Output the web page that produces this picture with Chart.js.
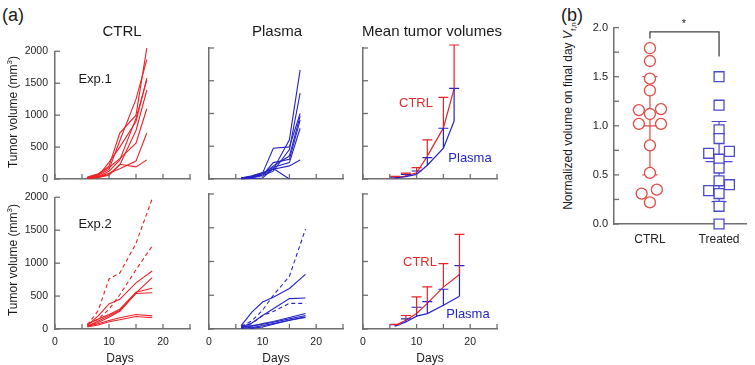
<!DOCTYPE html>
<html>
<head>
<meta charset="utf-8">
<script src="https://cdn.jsdelivr.net/npm/chart.js@4.4.1/dist/chart.umd.min.js"></script>
<style>
  body { margin: 0; background: #fff; font-family: "Liberation Sans", Arial, sans-serif; }
  #wrap { position: relative; width: 755px; height: 365px; overflow: hidden; }
  canvas { position: absolute; }
  .t { position: absolute; transform: translate(-50%, -50%); white-space: nowrap; color: #1a1a1a; line-height: 1; }
  .rot { transform: translate(-50%, -50%) rotate(-90deg); }
</style>
</head>
<body>
<div id="wrap">
  <canvas id="c1"></canvas><canvas id="c2"></canvas><canvas id="c3"></canvas>
  <canvas id="c4"></canvas><canvas id="c5"></canvas><canvas id="c6"></canvas>
  <canvas id="cb"></canvas>

  <div class="t" style="left:13px;top:15px;font-size:18px">(a)</div>
  <div class="t" style="left:572px;top:15px;font-size:18px">(b)</div>
  <div class="t" style="left:122px;top:30px;font-size:15px">CTRL</div>
  <div class="t" style="left:277px;top:30px;font-size:15px">Plasma</div>
  <div class="t" style="left:432px;top:30px;font-size:15px">Mean tumor volumes</div>
  <div class="t" style="left:95px;top:78px;font-size:13px">Exp.1</div>
  <div class="t" style="left:95px;top:223px;font-size:13px">Exp.2</div>
  <div class="t rot" style="left:12px;top:112px;font-size:12px">Tumor volume (mm<sup style="font-size:8px">3</sup>)</div>
  <div class="t rot" style="left:12px;top:260px;font-size:12px">Tumor volume (mm<sup style="font-size:8px">3</sup>)</div>
  <div class="t" style="left:120px;top:358px;font-size:12px">Days</div>
  <div class="t" style="left:276px;top:358px;font-size:12px">Days</div>
  <div class="t" style="left:430px;top:358px;font-size:12px">Days</div>
  <div class="t" style="left:416px;top:102px;font-size:13px;color:#e02a2a">CTRL</div>
  <div class="t" style="left:470px;top:157px;font-size:13px;color:#2424c8">Plasma</div>
  <div class="t" style="left:420px;top:261px;font-size:13px;color:#e02a2a">CTRL</div>
  <div class="t" style="left:468px;top:313px;font-size:13px;color:#2424c8">Plasma</div>
  <div class="t rot" style="left:570px;top:116px;font-size:12px">Normalized volume on final day <i>V</i><sub style="font-size:8px">f,n</sub></div>
  <div class="t" style="left:684px;top:23px;font-size:11px">*</div>
</div>

<script>
// measurement days
const days1 = [6, 8, 10, 12, 15, 17];
const days2 = [6, 8, 10, 12, 15, 18];

// Exp.1 individual tumours
const ctrlExp1 = [
  [30, 80, 200, 720, 1000, 2050],
  [25, 60, 150, 600, 1250, 1870],
  [20, 50, 260, 500, 900, 1580],
  [15, 40, 120, 300, 950, 1550],
  [10, 30, 70, 220, 760, 1390],
  [20, 70, 180, 320, 560, 1100],
  [15, 35, 90, 160, 280, 720],
  [10, 25, 60, 230, 190, 300]
];
const plasmaExp1 = [
  [10, 30, 60, 150, 600, 1665],
  [10, 25, 50, 120, 450, 1310],
  [15, 40, 90, 470, 490, 1000],
  [10, 30, 70, 200, 350, 960],
  [5, 20, 60, 250, 300, 900],
  [10, 35, 80, 180, 250, 775],
  [15, 50, 100, 150, 200, 290],
  [5, 10, 15, 160, 0, null]
];

// Exp.2 individual tumours
const ctrlExp2 = [
  [60, 200, 380, 450, 700, 880],
  [40, 120, 200, 280, 550, 780],
  [70, 150, 220, 300, 560, 620],
  [50, 100, 180, 270, 540, 550],
  [40, 80, 130, 170, 220, 200],
  [30, 60, 110, 140, 190, 170]
];
const ctrlExp2Dashed = [
  [60, 280, 760, 850, 1300, 1980],
  [80, 150, 300, 520, 900, 1260]
];
const plasmaExp2 = [
  [50, 250, 400, 470, 600, 810],
  [30, 90, 200, 300, 450, 460],
  [20, 40, 80, 110, 170, 230],
  [40, 50, 70, 100, 150, 200],
  [10, 20, 50, 80, 130, 170],
  [60, 10, 30, 70, 130, 180]
];
const plasmaExp2Dashed = [
  [40, 120, 280, 500, 780, 1480],
  [30, 80, 200, 260, 380, 380]
];

// means and upper error (SD)
const meanCtrl1 = [20, 45, 95, 350, 780, 1380];
const sdCtrl1 = [20, 45, 80, 246, 467, 666];
const meanPlasma1 = [15, 35, 70, 210, 470, 885];
const sdPlasma1 = [15, 35, 52, 116, 305, 500];
const meanCtrl2 = [50, 130, 230, 380, 620, 807];
const sdCtrl2 = [20, 70, 245, 244, 350, 594];
const meanPlasma2 = [40, 105, 190, 228, 351, 485];
const sdPlasma2 = [25, 45, 132, 178, 238, 455];

// (b) normalized final-day volumes
const groups = ['CTRL', 'Treated'];
const ctrlFinal = [1.79, 1.66, 1.48, 1.36, 1.16, 1.17, 1.12, 1.02, 1.02, 0.80, 0.52, 0.31, 0.35, 0.22];
const ctrlJitter = [0, 0, 0, 0, -0.16, 0.16, 0, -0.16, 0.16, 0, 0, -0.12, 0.1, 0];
const treatedFinal = [1.50, 1.21, 0.96, 0.87, 0.72, 0.74, 0.66, 0.57, 0.44, 0.34, 0.40, 0.31, 0.18, 0.0];
const treatedJitter = [0, 0, 0, 0, -0.15, 0.15, 0, 0, 0, -0.15, 0.15, 0, 0, 0];
const groupMeans = [1.0, 0.636];
const groupSds = [0.5, 0.408];
const sigBracketY = 1.957;
const sigLegEnds = [1.889, 1.705];

const AXIS = '#6f6f6f';
const RED = '#ec2227';
const BLUE = '#2424c8';
const RED_B = '#e24a44';
const BLUE_B = '#4a4ad0';

Chart.defaults.font.family = '"Liberation Sans", Arial, sans-serif';
Chart.defaults.color = '#222';
Chart.defaults.animation = false;

// short tick marks pointing into the plot
const inwardTicks = {
  id: 'inwardTicks',
  afterDraw(chart, args, opts) {
    const ctx = chart.ctx;
    ctx.save();
    ctx.strokeStyle = AXIS;
    ctx.lineWidth = 1.3;
    Object.values(chart.scales).forEach(s => {
      if (opts.skipX && s.isHorizontal()) return;
      s.ticks.forEach(t => {
        const p = s.getPixelForValue(t.value);
        ctx.beginPath();
        if (s.isHorizontal()) {
          ctx.moveTo(p, s.top); ctx.lineTo(p, s.top - 5);
        } else {
          ctx.moveTo(s.right, p); ctx.lineTo(s.right + 5, p);
        }
        ctx.stroke();
      });
    });
    ctx.restore();
  }
};

// one-sided error bars for the mean curves
const errorBars = {
  id: 'errorBars',
  afterDatasetsDraw(chart) {
    const { ctx } = chart;
    const x = chart.scales.x, y = chart.scales.y;
    chart.data.datasets.forEach(ds => {
      if (!ds.errUp) return;
      ctx.save();
      ctx.strokeStyle = ds.borderColor;
      ctx.lineWidth = 1.2;
      ds.data.forEach((p, i) => {
        const px = x.getPixelForValue(p.x);
        const y0 = y.getPixelForValue(p.y);
        const y1 = y.getPixelForValue(p.y + ds.errUp[i]);
        ctx.beginPath();
        ctx.moveTo(px, y0); ctx.lineTo(px, y1);
        ctx.moveTo(px - 5, y1); ctx.lineTo(px + 5, y1);
        ctx.stroke();
      });
      ctx.restore();
    });
  }
};

function lineSet(vals, days, color, dashed) {
  return {
    data: days.map((d, i) => ({ x: d, y: vals[i] })),
    borderColor: color,
    borderWidth: 1.1,
    borderDash: dashed ? [4, 3] : [],
    pointRadius: 0,
    tension: 0,
    clip: false,
    fill: false
  };
}

function meanSet(mean, sd, days, color) {
  const ds = lineSet(mean, days, color, false);
  ds.borderWidth = 1.2;
  ds.errUp = sd;
  return ds;
}

function panel(id, area, datasets, showY, showX) {
  const yW = showY ? 55 : 10;
  const xH = showX ? 22 : 14;
  const padT = 10, padR = 8;
  const cv = document.getElementById(id);
  cv.width = yW + (area.r - area.l) + padR;
  cv.height = padT + (area.b - area.t) + xH;
  cv.style.left = (area.l - yW) + 'px';
  cv.style.top = (area.t - padT) + 'px';
  new Chart(cv, {
    type: 'line',
    data: { datasets },
    options: {
      responsive: false,
      layout: { padding: { top: padT, right: padR, left: 0, bottom: 0 } },
      plugins: { legend: { display: false }, tooltip: { enabled: false } },
      scales: {
        x: {
          type: 'linear', min: 0, max: 25,
          grid: { display: false, drawTicks: false },
          border: { color: AXIS, width: 1.5 },
          ticks: { stepSize: 5, autoSkip: false, display: showX, padding: 7, maxRotation: 0,
                   font: { size: 10.5 }, callback: v => (v % 10 === 0 ? String(v) : '') },
          afterFit: s => { s.height = xH; }
        },
        y: {
          min: 0, max: 2000,
          grid: { display: false, drawTicks: false },
          border: { color: AXIS, width: 1.5 },
          ticks: { stepSize: 500, display: showY, padding: 7, font: { size: 10.5 }, callback: v => String(v) },
          afterFit: s => { s.width = yW; }
        }
      }
    },
    plugins: [inwardTicks, errorBars]
  });
}

const rowTop = { t: 48, b: 179 };
const rowBot = { t: 194, b: 329 };
const colCtrl = { l: 55, r: 190 };
const colPlasma = { l: 209, r: 343 };
const colMean = { l: 363, r: 497 };

panel('c1', { ...colCtrl, ...rowTop }, ctrlExp1.map(v => lineSet(v, days1, RED)), true, false);
panel('c2', { ...colPlasma, ...rowTop }, plasmaExp1.map(v => lineSet(v, days1, BLUE)), false, false);
panel('c3', { ...colMean, ...rowTop }, [
  meanSet(meanPlasma1, sdPlasma1, days1, BLUE),
  meanSet(meanCtrl1, sdCtrl1, days1, RED)
], false, false);
panel('c4', { ...colCtrl, ...rowBot },
  ctrlExp2.map(v => lineSet(v, days2, RED)).concat(ctrlExp2Dashed.map(v => lineSet(v, days2, RED, true))), true, true);
panel('c5', { ...colPlasma, ...rowBot },
  plasmaExp2.map(v => lineSet(v, days2, BLUE)).concat(plasmaExp2Dashed.map(v => lineSet(v, days2, BLUE, true))), false, true);
panel('c6', { ...colMean, ...rowBot }, [
  meanSet(meanPlasma2, sdPlasma2, days2, BLUE),
  meanSet(meanCtrl2, sdCtrl2, days2, RED)
], false, true);

// (b): mean ± SD bars and the significance bracket
const groupColors = [RED_B, BLUE_B];
const groupMarks = {
  id: 'groupMarks',
  beforeDatasetsDraw(chart) {
    const { ctx } = chart;
    const x = chart.scales.x, y = chart.scales.y;
    groupMeans.forEach((m, i) => {
      const px = x.getPixelForValue(i + 1);
      const top = y.getPixelForValue(m + groupSds[i]);
      const bot = y.getPixelForValue(m - groupSds[i]);
      const mid = y.getPixelForValue(m);
      ctx.save();
      ctx.strokeStyle = groupColors[i];
      ctx.lineWidth = 1.2;
      ctx.beginPath();
      ctx.moveTo(px, top); ctx.lineTo(px, bot);
      ctx.moveTo(px - 7.5, top); ctx.lineTo(px + 7.5, top);
      ctx.moveTo(px - 7.5, bot); ctx.lineTo(px + 7.5, bot);
      ctx.moveTo(px - 13.5, mid); ctx.lineTo(px + 13.5, mid);
      ctx.stroke();
      ctx.restore();
    });
  },
  afterDatasetsDraw(chart) {
    const { ctx } = chart;
    const x = chart.scales.x, y = chart.scales.y;
    const x1 = x.getPixelForValue(1), x2 = x.getPixelForValue(2);
    const yt = y.getPixelForValue(sigBracketY);
    ctx.save();
    ctx.strokeStyle = '#444';
    ctx.lineWidth = 1.3;
    ctx.beginPath();
    ctx.moveTo(x1, y.getPixelForValue(sigLegEnds[0]));
    ctx.lineTo(x1, yt); ctx.lineTo(x2, yt);
    ctx.lineTo(x2, y.getPixelForValue(sigLegEnds[1]));
    ctx.stroke();
    ctx.restore();
  }
};

(function () {
  const area = { l: 614, t: 25, r: 747, b: 224 };
  const yW = 30, xH = 24, padT = 10, padR = 8;
  const cv = document.getElementById('cb');
  cv.width = yW + (area.r - area.l) + padR;
  cv.height = padT + (area.b - area.t) + xH;
  cv.style.left = (area.l - yW) + 'px';
  cv.style.top = (area.t - padT) + 'px';
  new Chart(cv, {
    type: 'scatter',
    data: {
      datasets: [
        {
          data: ctrlFinal.map((v, i) => ({ x: 1 + ctrlJitter[i], y: v })),
          pointStyle: 'circle', pointRadius: 5.5,
          borderColor: RED_B, backgroundColor: '#fff', pointBorderWidth: 1.3, clip: false
        },
        {
          data: treatedFinal.map((v, i) => ({ x: 2 + treatedJitter[i], y: v })),
          pointStyle: 'rect', pointRadius: 7,
          borderColor: BLUE_B, backgroundColor: '#fff', pointBorderWidth: 1.3, clip: false
        }
      ]
    },
    options: {
      responsive: false,
      layout: { padding: { top: padT, right: padR, left: 0, bottom: 0 } },
      plugins: { legend: { display: false }, tooltip: { enabled: false }, inwardTicks: { skipX: true } },
      scales: {
        x: {
          type: 'linear', min: 0.48, max: 2.4,
          grid: { display: false, drawTicks: false },
          border: { color: AXIS, width: 1.5 },
          afterBuildTicks: s => { s.ticks = groups.map((g, i) => ({ value: i + 1 })); },
          ticks: { padding: 8, font: { size: 12 }, callback: v => groups[v - 1] },
          afterFit: s => { s.height = xH; }
        },
        y: {
          min: 0, max: 2,
          grid: { display: false, drawTicks: false },
          border: { color: AXIS, width: 1.5 },
          ticks: { stepSize: 0.25, padding: 6, font: { size: 11 },
                   callback: v => (Math.abs(v * 2 - Math.round(v * 2)) < 1e-6 ? v.toFixed(1) : '') },
          afterFit: s => { s.width = yW; }
        }
      }
    },
    plugins: [inwardTicks, groupMarks]
  });
})();
</script>
</body>
</html>
